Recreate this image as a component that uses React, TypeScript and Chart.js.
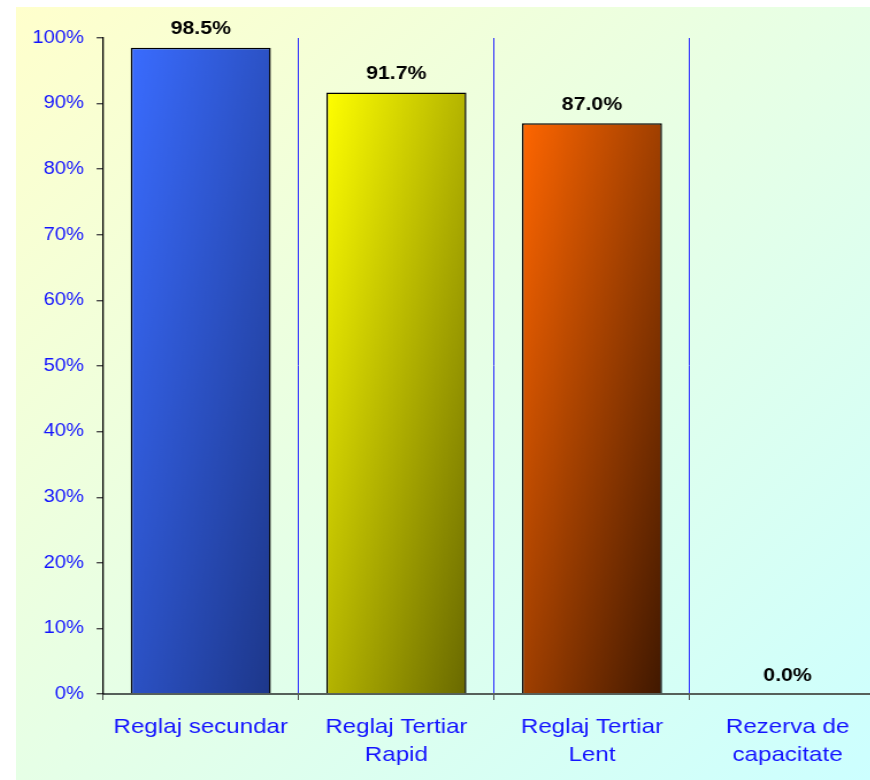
import { useEffect, useRef } from "react";
import { Chart, registerables } from "chart.js";

Chart.register(...registerables);

// data
const categories = [
	["Reglaj secundar"],
	["Reglaj Tertiar", "Rapid"],
	["Reglaj Tertiar", "Lent"],
	["Rezerva de", "capacitate"],
];
const shares = [98.5, 91.7, 87.0, 0.0];
const yMin = 0;
const yMax = 100;
const yStep = 10;

// look
const barStops = [
	["#3a6cff", "#1d378a"],
	["#ffff00", "#696900"],
	["#ff6600", "#401800"],
	["#cccccc", "#666666"],
];
const FONT = '"Liberation Sans", Arial, sans-serif';
const BLUE = "#1414ff";
const STRETCH = 1.15; // the original picture is wider than tall text would be
const BAR_PCT = 0.716;

const valueLabels = {
	id: "valueLabels",
	afterDatasetsDraw(chart: Chart) {
		const ctx = chart.ctx;
		const meta = chart.getDatasetMeta(0);
		ctx.save();
		ctx.font = `bold 18.5px ${FONT}`;
		ctx.fillStyle = "#000000";
		ctx.textAlign = "center";
		ctx.textBaseline = "middle";
		meta.data.forEach((bar: any, i: number) => {
			ctx.fillText(`${shares[i].toFixed(1)}%`, bar.x, bar.y - 18.5);
		});
		ctx.restore();
	},
};

function barFill(c: any) {
	const chart = c.chart;
	const i = c.dataIndex;
	const xs = chart.scales?.x;
	const ys = chart.scales?.y;
	if (i === undefined || !xs || !ys) return barStops[0][0];
	const half = ((xs.width / categories.length) * BAR_PCT) / 2;
	const left = xs.getPixelForValue(i) - half;
	const w = half * 2;
	const top = ys.getPixelForValue(shares[i]);
	const h = Math.max(ys.getPixelForValue(0) - top, 1);
	const k = (2 * w * h) / (w * w + h * h);
	const pts = [left, top, left + h * k, top + w * k];
	if (!pts.every((p) => Number.isFinite(p)) || w <= 0) return barStops[i][0];
	const g = chart.ctx.createLinearGradient(pts[0], pts[1], pts[2], pts[3]);
	g.addColorStop(0, barStops[i][0]);
	g.addColorStop(1, barStops[i][1]);
	return g;
}

export default function App() {
	const canvasRef = useRef<HTMLCanvasElement | null>(null);

	useEffect(() => {
		if (!canvasRef.current) {
			return;
		}

		const chart = new Chart(canvasRef.current, {
			type: "bar",
			data: {
				labels: categories,
				datasets: [
					{
						data: shares,
						backgroundColor: barFill,
						borderColor: "#000000",
						borderWidth: (c: any) => (c.raw === 0 ? 0 : 1.5),
						barPercentage: BAR_PCT,
						categoryPercentage: 1,
					},
				],
			},
			options: {
				responsive: true,
				maintainAspectRatio: false,
				animation: false,
				layout: { padding: { top: 31, right: 5, left: 0, bottom: 0 } },
				plugins: {
					legend: { display: false },
					tooltip: { enabled: false },
				},
				scales: {
					x: {
						afterFit: (scale: any) => {
							scale.height = 86;
						},
						grid: {
							offset: true,
							color: (c: any) => (c.index === 0 ? "rgba(0,0,0,0)" : "#2828ff"),
							lineWidth: 1,
							tickLength: 6,
							tickColor: "#4a4a4a",
						},
						border: { color: "#56605a", width: 2 },
						ticks: {
							color: BLUE,
							font: { family: FONT, size: 21, lineHeight: 1.33 },
							padding: 13,
							maxRotation: 0,
							autoSkip: false,
						},
					},
					y: {
						min: yMin,
						max: yMax,
						afterFit: (scale: any) => {
							scale.width = 75.6;
						},
						grid: {
							drawOnChartArea: false,
							tickLength: 5.5,
							tickColor: "#4a4a4a",
							lineWidth: 1.4,
						},
						border: { color: "#000000", width: 1.3 },
						ticks: {
							stepSize: yStep,
							callback: (v: any) => `${v}%`,
							color: BLUE,
							font: { family: FONT, size: 17.5 },
							padding: 11,
						},
					},
				},
			},
			plugins: [valueLabels],
		});

		return () => {
			chart.destroy();
		};
	}, []);

	return (
		<div style={{ position: "absolute", left: 0, top: 0, width: 870, height: 780, overflow: "hidden", background: "#ffffff" }}>
			<div
				style={{
					position: "absolute",
					left: 16,
					top: 7,
					width: 854,
					height: 773,
					background: "linear-gradient(to bottom right, #ffffcc, #e6ffe6 50%, #ccffff)",
				}}
			/>
			<div
				style={{
					position: "absolute",
					left: 16,
					top: 7,
					width: 761,
					height: 773,
					transform: `scaleX(${STRETCH})`,
					transformOrigin: "0 0",
				}}
			>
				<canvas ref={canvasRef} aria-label="Bar chart of regulation shares" />
			</div>
		</div>
	);
}
